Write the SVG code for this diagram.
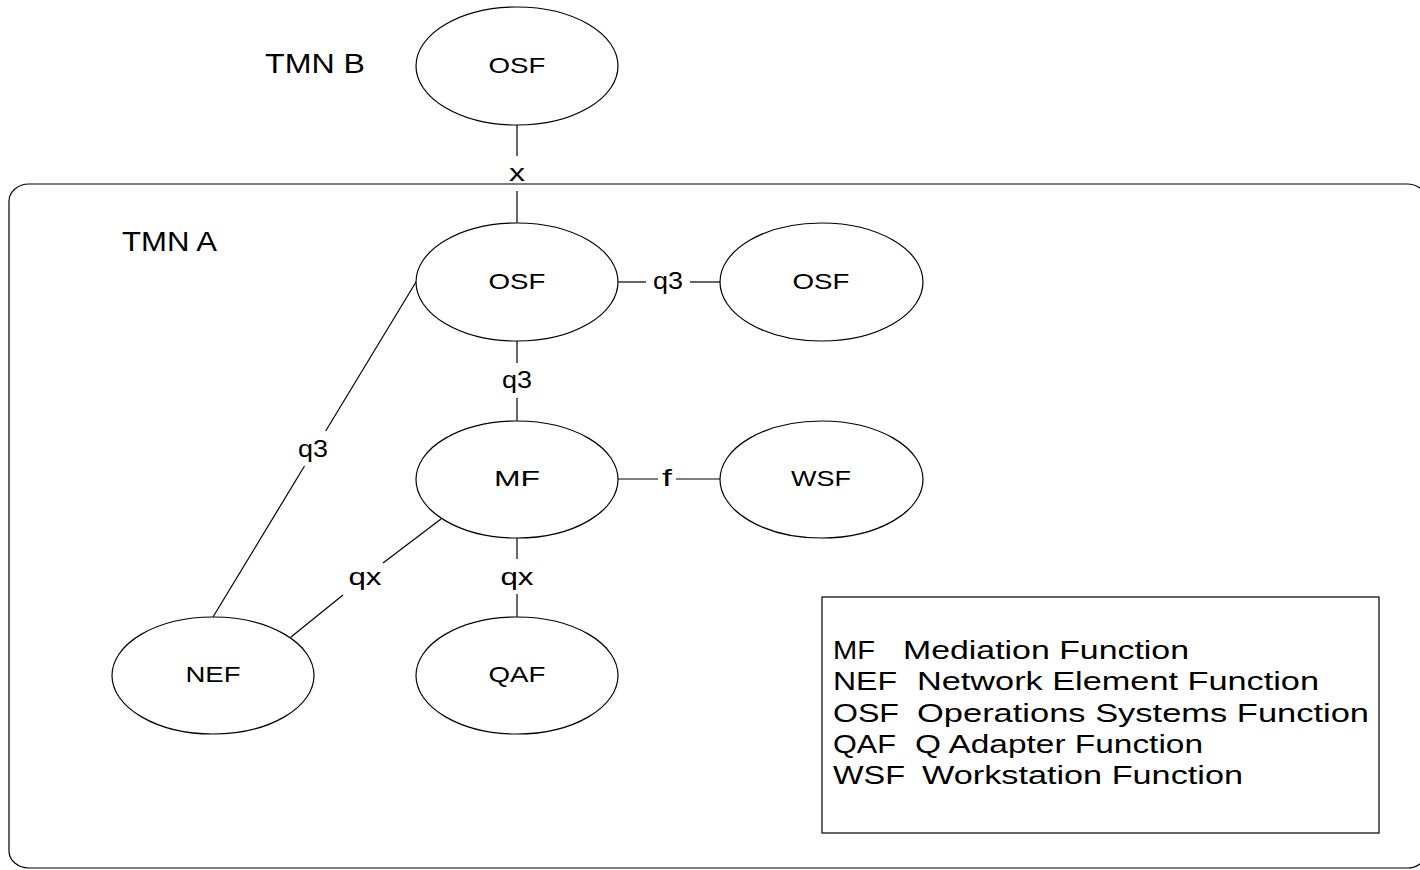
<svg xmlns="http://www.w3.org/2000/svg" width="1420" height="870" viewBox="0 0 1420 870">
<style>
  .bg { fill: #ffffff; }
  .frame { fill: none; stroke: #000; stroke-width: 1.2; }
  .node ellipse { fill: #ffffff; stroke: #000; stroke-width: 1.2; }
  text { font-family: "Liberation Sans", Arial, sans-serif; fill: #000; }
  .nlabel { font-size: 22px; text-anchor: middle; }
  .elabel { font-size: 24px; text-anchor: middle; }
  .title { font-size: 27px; }
  .legend { font-size: 25px; }
  .conn line { stroke: #000; stroke-width: 1.2; }
</style>
<rect class="bg" x="0" y="0" width="1420" height="870"/>

<g id="tmn-a-boundary">
  <rect class="frame" x="9" y="184" width="1418" height="684" rx="20" ry="17"/>
</g>

<g id="title-tmn-b"><text class="title" x="265" y="73" textLength="100" lengthAdjust="spacingAndGlyphs">TMN B</text></g>
<g id="title-tmn-a"><text class="title" x="122" y="251" textLength="95" lengthAdjust="spacingAndGlyphs">TMN A</text></g>

<g id="connectors" class="conn">
  <line x1="517" y1="125" x2="517" y2="156"/>
  <line x1="517" y1="191" x2="517" y2="223"/>
  <line x1="618" y1="282" x2="646" y2="282"/>
  <line x1="690" y1="282" x2="720" y2="282"/>
  <line x1="517" y1="341" x2="517" y2="363"/>
  <line x1="517" y1="398" x2="517" y2="421"/>
  <line x1="618" y1="479" x2="658" y2="479"/>
  <line x1="676" y1="479" x2="720" y2="479"/>
  <line x1="517" y1="538" x2="517" y2="559"/>
  <line x1="517" y1="594" x2="517" y2="617"/>
  <line x1="291" y1="637" x2="343" y2="595"/>
  <line x1="383" y1="563" x2="441" y2="519"/>
  <line x1="213" y1="617" x2="304.5" y2="466"/>
  <line x1="325.7" y1="431" x2="416" y2="282"/>
  <text class="elabel" x="517" y="181" textLength="16" lengthAdjust="spacingAndGlyphs">x</text>
  <text class="elabel" x="668" y="289" textLength="30" lengthAdjust="spacingAndGlyphs">q3</text>
  <text class="elabel" x="517" y="388" textLength="30" lengthAdjust="spacingAndGlyphs">q3</text>
  <text class="elabel" x="667" y="486" textLength="10" lengthAdjust="spacingAndGlyphs">f</text>
  <text class="elabel" x="313" y="457" textLength="30" lengthAdjust="spacingAndGlyphs">q3</text>
  <text class="elabel" x="365" y="585" textLength="33" lengthAdjust="spacingAndGlyphs">qx</text>
  <text class="elabel" x="517" y="585" textLength="33" lengthAdjust="spacingAndGlyphs">qx</text>
</g>

<g id="osf-b" class="node">
  <ellipse cx="517" cy="66" rx="101" ry="59"/>
  <text class="nlabel" x="517" y="73" textLength="57" lengthAdjust="spacingAndGlyphs">OSF</text>
</g>
<g id="osf-a" class="node">
  <ellipse cx="517" cy="282" rx="101" ry="59"/>
  <text class="nlabel" x="517" y="289" textLength="57" lengthAdjust="spacingAndGlyphs">OSF</text>
</g>
<g id="osf-a2" class="node">
  <ellipse cx="821.5" cy="282" rx="101.5" ry="59"/>
  <text class="nlabel" x="821" y="289" textLength="57" lengthAdjust="spacingAndGlyphs">OSF</text>
</g>
<g id="mf" class="node">
  <ellipse cx="517" cy="479.5" rx="101" ry="58.5"/>
  <text class="nlabel" x="517" y="486" textLength="46" lengthAdjust="spacingAndGlyphs">MF</text>
</g>
<g id="wsf" class="node">
  <ellipse cx="821.5" cy="479.5" rx="101.5" ry="58.5"/>
  <text class="nlabel" x="821" y="486" textLength="60" lengthAdjust="spacingAndGlyphs">WSF</text>
</g>
<g id="nef" class="node">
  <ellipse cx="213" cy="675.5" rx="101" ry="58.5"/>
  <text class="nlabel" x="213" y="682" textLength="55" lengthAdjust="spacingAndGlyphs">NEF</text>
</g>
<g id="qaf" class="node">
  <ellipse cx="517" cy="675.5" rx="101" ry="58.5"/>
  <text class="nlabel" x="517" y="682" textLength="57" lengthAdjust="spacingAndGlyphs">QAF</text>
</g>

<g id="legend">
  <rect class="frame" x="822" y="597" width="557" height="236"/>
  <text class="legend" x="833" y="659" textLength="42" lengthAdjust="spacingAndGlyphs">MF</text>
  <text class="legend" x="903" y="659" textLength="286" lengthAdjust="spacingAndGlyphs">Mediation Function</text>
  <text class="legend" x="833" y="690" textLength="64" lengthAdjust="spacingAndGlyphs">NEF</text>
  <text class="legend" x="917" y="690" textLength="402" lengthAdjust="spacingAndGlyphs">Network Element Function</text>
  <text class="legend" x="833" y="722" textLength="66" lengthAdjust="spacingAndGlyphs">OSF</text>
  <text class="legend" x="917" y="722" textLength="452" lengthAdjust="spacingAndGlyphs">Operations Systems Function</text>
  <text class="legend" x="833" y="753" textLength="63" lengthAdjust="spacingAndGlyphs">QAF</text>
  <text class="legend" x="915" y="753" textLength="288" lengthAdjust="spacingAndGlyphs">Q Adapter Function</text>
  <text class="legend" x="833" y="784" textLength="72" lengthAdjust="spacingAndGlyphs">WSF</text>
  <text class="legend" x="922" y="784" textLength="321" lengthAdjust="spacingAndGlyphs">Workstation Function</text>
</g>
</svg>
